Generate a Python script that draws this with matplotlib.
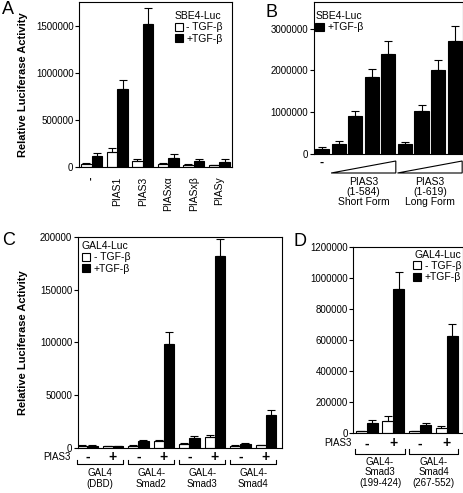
import matplotlib
matplotlib.use('Agg')
import matplotlib.pyplot as plt
from matplotlib.patches import Patch, Polygon
from matplotlib.transforms import blended_transform_factory
import numpy as np

plt.rcParams['font.family'] = ['Liberation Sans', 'DejaVu Sans']
plt.rcParams['axes.linewidth'] = 0.8

# ---- data ----
# A: SBE4-Luc, -/+ TGF-beta
a_labels = ['-', 'PIAS1', 'PIAS3', 'PIASx\u03b1', 'PIASx\u03b2', 'PIASy']
a_minus = [32000, 155000, 63000, 30000, 22000, 17000]
a_minus_err = [10000, 43000, 25000, 10000, 7000, 7000]
a_plus = [116000, 830000, 1520000, 98000, 63000, 53000]
a_plus_err = [35000, 90000, 170000, 36000, 25000, 32000]

# B: SBE4-Luc, + TGF-beta, increasing PIAS3
b_vals = [130000, 250000, 900000, 1835000, 2405000, 240000, 1030000, 2010000, 2710000]
b_err = [40000, 60000, 120000, 200000, 295000, 50000, 150000, 240000, 350000]
b_groups = ['PIAS3\n(1-584)\nShort Form', 'PIAS3\n(1-619)\nLong Form']

# C: GAL4-Luc, slots = construct x PIAS3(-, +)
c_constructs = ['GAL4\n(DBD)', 'GAL4-\nSmad2', 'GAL4-\nSmad3', 'GAL4-\nSmad4']
c_white = [1800, 1500, 1800, 6500, 3500, 10000, 1800, 2300]
c_white_err = [500, 400, 500, 1000, 800, 1800, 500, 700]
c_black = [2000, 1500, 6000, 98000, 9500, 182000, 3300, 31000]
c_black_err = [500, 400, 1000, 12000, 2000, 16000, 1200, 5000]

# D: GAL4-Luc, Smad C-terminal fragments
d_constructs = ['GAL4-\nSmad3\n(199-424)', 'GAL4-\nSmad4\n(267-552)']
d_white = [10000, 78000, 10000, 33000]
d_white_err = [4000, 30000, 4000, 10000]
d_black = [62000, 925000, 50000, 622000]
d_black_err = [22000, 110000, 15000, 80000]

pias_signs = ['-', '+']

W, H, DPI = 464, 493, 100
fig = plt.figure(figsize=(W / DPI, H / DPI), dpi=DPI)


def box(l, t, r, b):
    return fig.add_axes([l / W, 1 - b / H, (r - l) / W, (b - t) / H])


def bars(ax, x, vals, err, width, color):
    ax.bar(x, vals, width, color=color, edgecolor='black', linewidth=0.8, zorder=2)
    ax.errorbar(x, vals, yerr=[np.zeros(len(vals)), err], fmt='none', ecolor='black',
                elinewidth=0.8, capsize=2.8, capthick=0.8, zorder=3)


def style(ax, ticks, lim):
    ax.set_ylim(0, lim)
    ax.set_yticks(ticks)
    ax.set_yticklabels([str(t) for t in ticks])
    ax.tick_params(axis='y', length=3, width=0.8, pad=1, labelsize=7)
    ax.tick_params(axis='x', length=0)


def legend(ax, title, handles, labels, loc, anchor, align='left'):
    ax.legend(handles, labels, title=title, loc=loc, bbox_to_anchor=anchor, frameon=False,
              fontsize=7.5, title_fontsize=7.5, handlelength=0.8, handleheight=0.8,
              handletextpad=0.35, labelspacing=0.12, borderpad=0, borderaxespad=0,
              alignment=align)


def ytr(ax):
    return blended_transform_factory(ax.transData, fig.transFigure)


def fy(px):
    return 1 - px / H


h_minus = Patch(facecolor='white', edgecolor='black', linewidth=0.8)
h_plus = Patch(facecolor='black', edgecolor='black', linewidth=0.8)
lab_minus, lab_plus = '- TGF-\u03b2', '+TGF-\u03b2'

# ---- A ----
axA = box(79, 2, 232, 167)
xa = np.arange(len(a_labels))
bars(axA, xa - 0.21, a_minus, a_minus_err, 0.42, 'white')
bars(axA, xa + 0.21, a_plus, a_plus_err, 0.42, 'black')
axA.set_xlim(-0.5, 5.5)
style(axA, [0, 500000, 1000000, 1500000], 1750000)
axA.set_xticks(xa, a_labels, rotation=90, fontsize=7.5)
axA.tick_params(axis='x', pad=7)
axA.get_xticklabels()[0].set_fontweight('bold')
axA.set_ylabel('Relative Luciferase Activity', fontsize=8, fontweight='bold')
axA.yaxis.set_label_coords((28 - 79) / 153, 0.5)
legend(axA, 'SBE4-Luc', [h_minus, h_plus], [lab_minus, lab_plus], 'upper right',
       (1 - 9 / 153, 1 - 9 / 165))

# ---- B ----
axB = box(313.7, 2, 463, 154)
xb = np.arange(len(b_vals))
bars(axB, xb, b_vals, b_err, 0.85, 'black')
axB.set_xlim(-0.5, 8.5)
style(axB, [0, 1000000, 2000000, 3000000], 3640000)
axB.set_xticks([])
legend(axB, 'SBE4-Luc', [h_plus], [lab_plus], 'upper left', (0.01, 1 - 9 / 152))
tb = ytr(axB)
axB.text(0, fy(163), '-', transform=tb, ha='center', va='center', fontsize=9, fontweight='bold')
for g, name in enumerate(b_groups):
    x0, x1 = 1 + 4 * g - 0.45, 4 + 4 * g + 0.45
    axB.add_patch(Polygon([(x0, fy(173)), (x1, fy(173)), (x1, fy(161))], closed=True,
                          fill=False, edgecolor='black', linewidth=0.8,
                          transform=tb, clip_on=False))
    axB.text((x0 + x1) / 2, fy(177), name, transform=tb, ha='center', va='top',
             fontsize=7.5, linespacing=1.0)

# ---- C ----
axC = box(77.7, 237, 281.7, 447.7)
xc = np.arange(len(c_white))
bars(axC, xc - 0.2, c_white, c_white_err, 0.4, 'white')
bars(axC, xc + 0.2, c_black, c_black_err, 0.4, 'black')
axC.set_xlim(-0.38, 7.62)
style(axC, [0, 50000, 100000, 150000, 200000], 200000)
axC.set_xticks([])
axC.set_ylabel('Relative Luciferase Activity', fontsize=8, fontweight='bold')
axC.yaxis.set_label_coords((28 - 77.7) / 204, 0.5)
legend(axC, 'GAL4-Luc', [h_minus, h_plus], [lab_minus, lab_plus], 'upper left',
       (0.02, 1 - 4 / 210))
tc = ytr(axC)
fig.text(71 / W, fy(457.5), 'PIAS3', ha='right', va='center', fontsize=7)
for i in xc:
    axC.text(i, fy(457), pias_signs[i % 2], transform=tc, ha='center', va='center',
             fontsize=10, fontweight='bold')
for k, name in enumerate(c_constructs):
    x0, x1 = 2 * k - 0.4, 2 * k + 1.4
    axC.plot([x0, x0, x1, x1], [fy(460), fy(464), fy(464), fy(460)], color='black',
             linewidth=0.8, transform=tc, clip_on=False)
    axC.text(2 * k + 0.5, fy(468.5), name, transform=tc, ha='center', va='top',
             fontsize=7, linespacing=1.05)

# ---- D ----
axD = box(353.3, 246.7, 463, 432.7)
xd = np.arange(len(d_white))
bars(axD, xd - 0.205, d_white, d_white_err, 0.41, 'white')
bars(axD, xd + 0.205, d_black, d_black_err, 0.41, 'black')
axD.set_xlim(-0.5, 3.6)
style(axD, [0, 200000, 400000, 600000, 800000, 1000000, 1200000], 1200000)
axD.set_xticks([])
legend(axD, 'GAL4-Luc', [h_minus, h_plus], [lab_minus, lab_plus], 'upper right',
       (1 - 2 / 110, 1 - 3 / 186), align='right')
td = ytr(axD)
fig.text(352 / W, fy(443.5), 'PIAS3', ha='right', va='center', fontsize=7)
for i in xd:
    axD.text(i, fy(443.5), pias_signs[i % 2], transform=td, ha='center', va='center',
             fontsize=10, fontweight='bold')
for k, name in enumerate(d_constructs):
    x0, x1 = 2 * k - 0.42, 2 * k + 1.42
    axD.plot([x0, x0, x1, x1], [fy(449), fy(453.5), fy(453.5), fy(449)], color='black',
             linewidth=0.8, transform=td, clip_on=False)
    axD.text(2 * k + 0.5, fy(457), name, transform=td, ha='center', va='top',
             fontsize=7, linespacing=1.05)

# panel letters
for s, x, y in [('A', 2, 10), ('B', 266, 12.5), ('C', 2, 240.5), ('D', 294, 241.5)]:
    fig.text(x / W, fy(y), s, ha='left', va='center', fontsize=13)

fig.savefig('out.png', dpi=DPI)
